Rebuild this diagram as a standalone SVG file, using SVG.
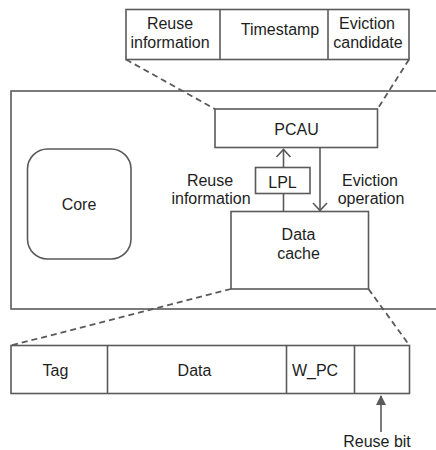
<svg xmlns="http://www.w3.org/2000/svg" width="436" height="450" viewBox="0 0 436 450">
  <style>
    .box { fill: #ffffff; stroke: #5a5a5a; stroke-width: 1.6; }
    .ln { fill: none; stroke: #5a5a5a; stroke-width: 1.6; }
    .dash { fill: none; stroke: #5a5a5a; stroke-width: 1.8; stroke-dasharray: 6 4; }
    text { font-family: "Liberation Sans", Arial, sans-serif; font-size: 16px; fill: #1e1e1e; text-anchor: middle; }
  </style>
  <defs>
    <marker id="solidHead" markerWidth="10" markerHeight="10" refX="9" refY="5" orient="auto" markerUnits="userSpaceOnUse">
      <path d="M0,0 L10,5 L0,10 Z" fill="#5a5a5a"/>
    </marker>
  </defs>
  <rect width="436" height="450" fill="#ffffff"/>

  <!-- processor outline -->
  <g id="chip">
    <rect class="box" x="11" y="91" width="440" height="218"/>
  </g>

  <!-- PCAU entry fields -->
  <g id="pcau-entry">
    <rect class="box" x="126" y="9.5" width="283" height="50"/>
    <line class="ln" x1="220" y1="9.5" x2="220" y2="59.5"/>
    <line class="ln" x1="328" y1="9.5" x2="328" y2="59.5"/>
    <text x="170" y="29">Reuse</text>
    <text x="170" y="48">information</text>
    <text x="280" y="35">Timestamp</text>
    <text x="367" y="29">Eviction</text>
    <text x="368" y="48">candidate</text>
  </g>

  <g id="core">
    <rect class="box" x="27.5" y="149" width="103.5" height="110" rx="20" ry="20"/>
    <text x="79" y="210">Core</text>
  </g>

  <g id="pcau">
    <rect class="box" x="215" y="109" width="162.5" height="38.5"/>
    <text x="296.5" y="135">PCAU</text>
  </g>

  <g id="data-cache">
    <rect class="box" x="231" y="211.5" width="137.5" height="77.5"/>
    <text x="298.5" y="240">Data</text>
    <text x="298.5" y="259">cache</text>
  </g>

  <g id="lpl">
    <rect class="box" x="255.5" y="167.5" width="54.5" height="26"/>
    <text x="282.5" y="188">LPL</text>
  </g>

  <!-- cache line fields -->
  <g id="cache-line">
    <rect class="box" x="11" y="345.5" width="398.5" height="48"/>
    <line class="ln" x1="107.5" y1="345.5" x2="107.5" y2="393.5"/>
    <line class="ln" x1="286.5" y1="345.5" x2="286.5" y2="393.5"/>
    <line class="ln" x1="354.5" y1="345.5" x2="354.5" y2="393.5"/>
    <text x="55.5" y="376">Tag</text>
    <text x="194.5" y="376">Data</text>
    <text x="315" y="376">W_PC</text>
  </g>

  <g id="connectors">
    <!-- zoom-in guides -->
    <line class="dash" x1="126" y1="59.5" x2="215" y2="109"/>
    <line class="dash" x1="409" y1="59.5" x2="377.5" y2="109"/>
    <line class="dash" x1="231" y1="289" x2="11" y2="345.5"/>
    <line class="dash" x1="368.5" y1="289" x2="409.5" y2="345.5"/>

    <!-- reuse information: data cache -> LPL -> PCAU -->
    <line class="ln" x1="283.5" y1="211.5" x2="283.5" y2="193.5"/>
    <line class="ln" x1="283.5" y1="167.5" x2="283.5" y2="149"/>
    <polyline class="ln" points="276.5,157 283.5,149.5 290.5,157"/>

    <!-- eviction operation: PCAU -> data cache -->
    <line class="ln" x1="320" y1="147.5" x2="320" y2="210.5"/>
    <polyline class="ln" points="313,203 320,210.5 327,203"/>

    <!-- reuse bit pointer -->
    <line class="ln" x1="381" y1="432" x2="381" y2="396" marker-end="url(#solidHead)"/>

    <text x="210" y="186">Reuse</text>
    <text x="211" y="204">information</text>
    <text x="370" y="186">Eviction</text>
    <text x="371" y="204">operation</text>
    <text x="377" y="447">Reuse bit</text>
  </g>
</svg>
